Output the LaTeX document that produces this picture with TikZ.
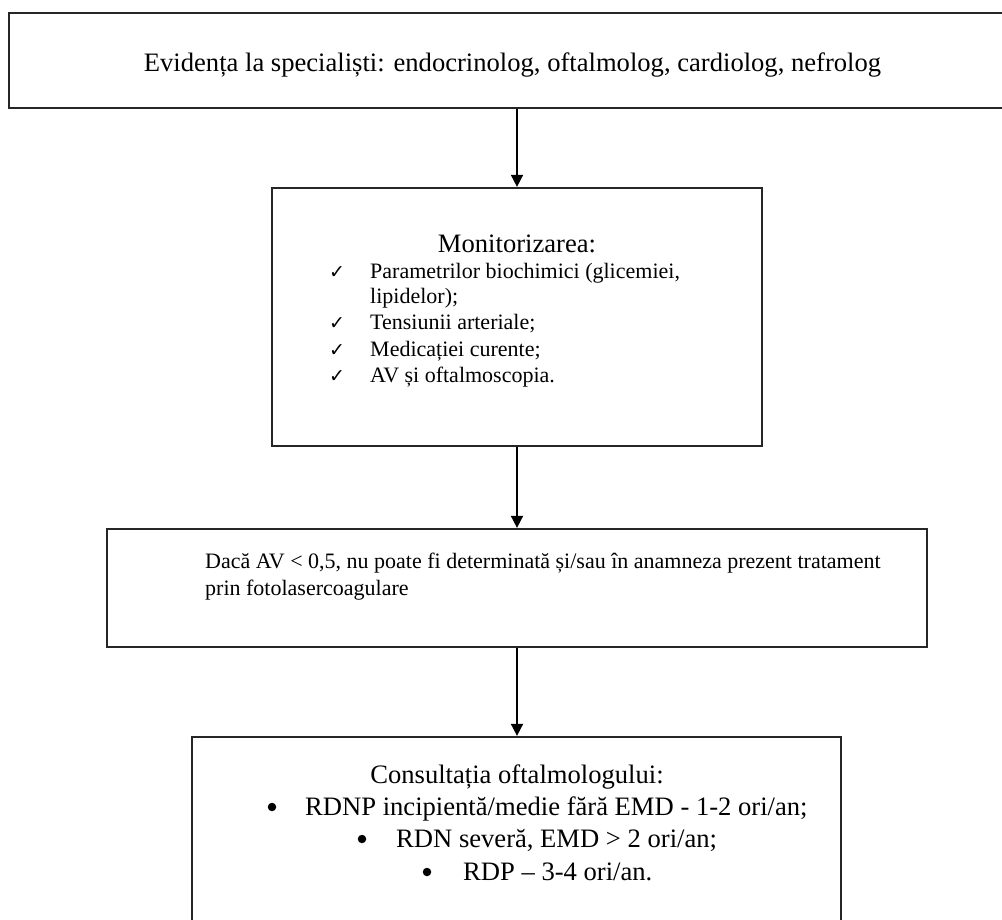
\documentclass[tikz,border=0pt]{standalone}
\usepackage{fontspec}
\setmainfont{Liberation Serif}
\newfontfamily\symfont{DejaVu Sans}
\usetikzlibrary{arrows.meta}
\begin{document}
\begin{tikzpicture}[x=1pt,y=-1pt,
  box/.style={draw=black!85, line width=2.2pt, inner sep=0pt},
  conn/.style={draw=black, line width=1.6pt, -{Triangle[length=12pt,width=12pt]}},
  txt/.style={inner sep=0pt, anchor=base west},
  ctxt/.style={inner sep=0pt, anchor=base},
  big/.style={font=\fontsize{26.6}{32}\selectfont},
  small/.style={font=\fontsize{22}{27}\selectfont},
  chk/.style={inner sep=0pt, anchor=base, font=\symfont\fontsize{19}{22}\selectfont},
  bul/.style={circle, fill=black, inner sep=0pt, minimum size=8.5pt},
]
\useasboundingbox (0,0) rectangle (1002,920);
\fill[white] (0,0) rectangle (1002,920);
\begin{scope}
\clip (0,0) rectangle (1002,920);
% boxes
\node[box, minimum width=1007pt, minimum height=95pt] (b1) at (512.5,60.5) {};
\node[box, minimum width=490pt, minimum height=258pt] (b2) at (517,317) {};
\node[box, minimum width=820pt, minimum height=118pt] (b3) at (517,588) {};
\node[box, minimum width=649pt, minimum height=198pt] (b4) at (516.5,836) {};

% box 1 text
\node[ctxt, big] (t1) at (512.5,72) {Evidența la specialiști: endocrinolog, oftalmolog, cardiolog, nefrolog};

% box 2 text
\node[ctxt, big] (t2) at (517,253) {Monitorizarea:};
\node[chk] (c1) at (337,279) {✓};
\node[txt, small] (i1) at (370,279) {Parametrilor biochimici (glicemiei,};
\node[txt, small] (i1b) at (370,304) {lipidelor);};
\node[chk] (c2) at (337,330) {✓};
\node[txt, small] (i2) at (370,330) {Tensiunii arteriale;};
\node[chk] (c3) at (337,356) {✓};
\node[txt, small] (i3) at (370,356) {Medicației curente;};
\node[chk] (c4) at (337,382) {✓};
\node[txt, small] (i4) at (370,382) {AV și oftalmoscopia.};

% box 3 text
\node[txt, small] (t3a) at (205,568) {Dacă AV < 0,5, nu poate fi determinată și/sau în anamneza prezent tratament};
\node[txt, small] (t3b) at (205,595) {prin fotolasercoagulare};

% box 4 text
\node[ctxt, big] (t4) at (517,783) {Consultația oftalmologului:};
\node[bul] (d1) at (272,807) {};
\node[txt, big] (l1) at (305,815) {RDNP incipientă/medie fără EMD - 1-2 ori/an;};
\node[bul] (d2) at (362,839) {};
\node[txt, big] (l2) at (396,847) {RDN severă, EMD > 2 ori/an;};
\node[bul] (d3) at (427,872) {};
\node[txt, big] (l3) at (463,880) {RDP – 3-4 ori/an.};

% connectors
\draw[conn] (b1.south -| b2.north) -- (b2.north);
\draw[conn] (b2.south) -- (b3.north);
\draw[conn] (b3.south) -- (b4.north -| b3.south);
\end{scope}
\end{tikzpicture}
\end{document}
